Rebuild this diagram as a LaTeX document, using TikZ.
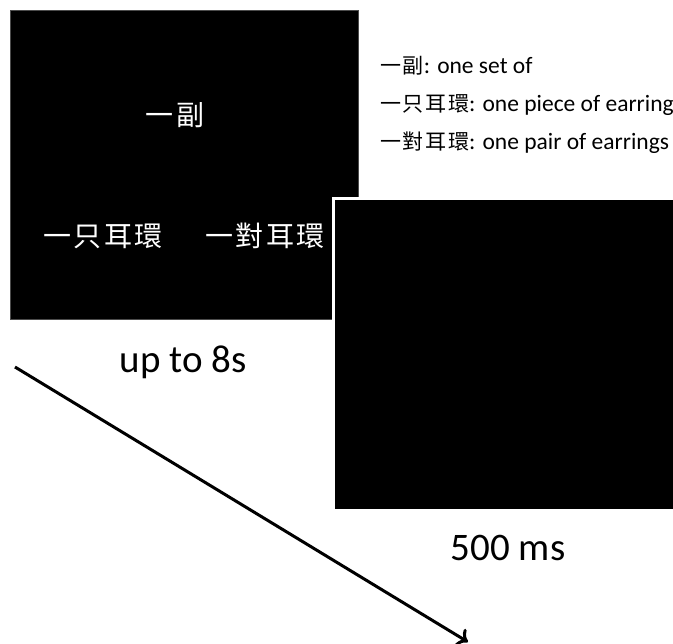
\documentclass[tikz,border=0pt]{standalone}
\usepackage{fontspec}
\setmainfont{Carlito}
\newfontfamily\cjk[LetterSpace=8]{Noto Sans CJK TC}
\usetikzlibrary{arrows.meta}
\tikzstyle{screen} = [
    rectangle,
    fill=black,
    inner sep=0pt
]
\tikzstyle{hanzi} = [
    text=white,
    font=\cjk\fontsize{28}{32}\selectfont
]
\tikzstyle{gloss} = [
    anchor=west,
    inner sep=0pt,
    font=\fontsize{23.5}{26}\selectfont
]
\tikzstyle{timing} = [
    font=\fontsize{39}{44}\selectfont
]
\tikzstyle{arrow} = [line width=3pt,-{To[length=10pt,width=20pt,line width=3pt]}]

\begin{document}
\begin{tikzpicture}[x=1pt,y=-1pt]
\clip (0,0) rectangle (673,644);

\node (choice) [screen, draw=black!70, line width=0.8pt,
    minimum width=348pt, minimum height=309pt] at (184,164.5) {};

\node (set) [hanzi] at (175,115) {一副};
\node (piece) [hanzi] at (103,236) {一只耳環};
\node (pair) [hanzi] at (265,236) {一對耳環};

\node (blank) [screen, draw=white, line width=3pt,
    minimum width=344pt, minimum height=312pt] at (505,355) {};

\node (gset) [gloss] at (380,66) {{\cjk\fontsize{21}{24}\selectfont 一副}: one set of};
\node (gpiece) [gloss] at (380,105) {{\cjk\fontsize{21}{24}\selectfont 一只耳環}: one piece of earrings};
\node (gpair) [gloss] at (380,143) {{\cjk\fontsize{21}{24}\selectfont 一對耳環}: one pair of earrings};

\node (first) [timing] at (183,362) {up to 8s};
\node (second) [timing] at (508,548) {500 ms};

\coordinate (tstart) at (15,367);
\coordinate (tend) at (468,642);
\draw [arrow] (tstart) -- (tend);

\end{tikzpicture}
\end{document}
